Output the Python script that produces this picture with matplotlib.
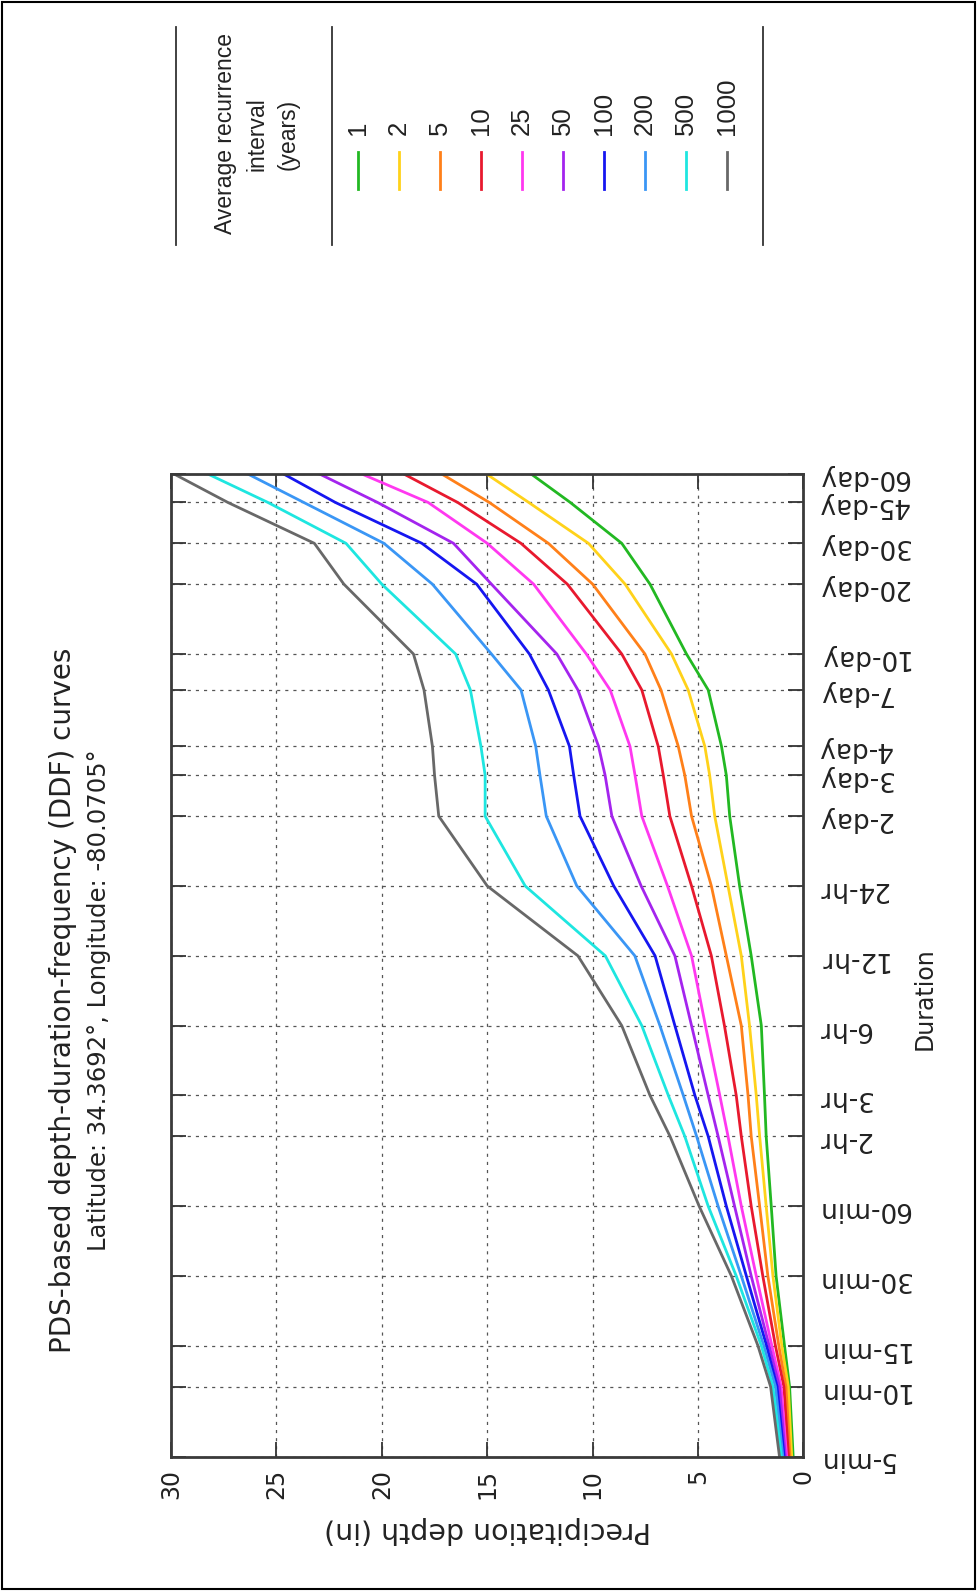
import matplotlib
matplotlib.use('Agg')
import matplotlib.pyplot as plt
from matplotlib.lines import Line2D
from matplotlib.patches import Rectangle
from matplotlib.ticker import NullLocator

# durations in minutes, and their tick labels
durations = [5, 10, 15, 30, 60, 120, 180, 360, 720, 1440, 2880, 4320, 5760,
             10080, 14400, 28800, 43200, 64800, 86400]
duration_labels = ['5-min', '10-min', '15-min', '30-min', '60-min', '2-hr', '3-hr',
                   '6-hr', '12-hr', '24-hr', '2-day', '3-day', '4-day', '7-day',
                   '10-day', '20-day', '30-day', '45-day', '60-day']

# precipitation depth (in) per average recurrence interval
depth_1 = [0.49, 0.66, 0.90, 1.30, 1.53, 1.77, 1.85, 2.00, 2.48, 3.03, 3.50, 3.66,
           3.89, 4.52, 5.55, 7.28, 8.62, 11.06, 12.95]
depth_2 = [0.56, 0.72, 1.03, 1.45, 1.77, 2.08, 2.24, 2.56, 2.95, 3.58, 4.21, 4.45,
           4.68, 5.47, 6.26, 8.46, 10.2, 13.03, 15.07]
depth_5 = [0.64, 0.83, 1.17, 1.69, 2.08, 2.48, 2.63, 2.95, 3.66, 4.37, 5.31, 5.63,
           5.94, 6.76, 7.52, 10.0, 12.1, 14.9, 17.2]
depth_10 = [0.71, 0.93, 1.33, 1.93, 2.48, 2.95, 3.19, 3.75, 4.37, 5.31, 6.34, 6.65,
            6.89, 7.67, 8.62, 11.2, 13.4, 16.4, 19.0]
depth_25 = [0.80, 1.06, 1.50, 2.24, 2.95, 3.58, 3.97, 4.65, 5.31, 6.45, 7.67, 7.99,
            8.23, 9.17, 10.3, 12.8, 15.0, 17.8, 21.0]
depth_50 = [0.86, 1.14, 1.63, 2.48, 3.27, 4.05, 4.52, 5.31, 6.10, 7.70, 9.09, 9.41,
            9.72, 10.7, 11.7, 14.8, 16.6, 20.2, 23.0]
depth_100 = [0.92, 1.25, 1.75, 2.71, 3.66, 4.52, 5.15, 6.10, 7.04, 9.00, 10.6, 10.9,
             11.1, 12.1, 13.0, 15.5, 18.1, 22.2, 24.7]
depth_200 = [0.98, 1.33, 1.88, 2.95, 4.05, 5.07, 5.70, 6.81, 8.00, 10.75, 12.2, 12.5,
             12.7, 13.4, 14.8, 17.6, 19.9, 23.7, 26.4]
depth_500 = [1.05, 1.45, 2.00, 3.19, 4.52, 5.63, 6.41, 7.67, 9.40, 13.2, 15.1, 15.1,
             15.3, 15.8, 16.5, 20.0, 21.7, 25.4, 28.3]
depth_1000 = [1.14, 1.56, 2.16, 3.42, 4.95, 6.33, 7.28, 8.62, 10.7, 15.0, 17.3, 17.5,
              17.6, 18.0, 18.5, 21.8, 23.2, 27.3, 29.9]

ari_labels = ['1', '2', '5', '10', '25', '50', '100', '200', '500', '1000']
series = [depth_1, depth_2, depth_5, depth_10, depth_25, depth_50, depth_100,
          depth_200, depth_500, depth_1000]
colors = ['#22b822', '#ffd21a', '#ff8019', '#e8192e', '#ff38f0', '#a424ee',
          '#1616f0', '#3a96f5', '#1ee6e0', '#686868']

W, H = 977, 1591


def fx(x):
    return x / W


def fy(y):
    return 1 - y / H


fig = plt.figure(figsize=(W / 100, H / 100), dpi=100)

ax = fig.add_axes([fx(171), fy(1456.5), (803.5 - 171) / W, (1456.5 - 473.5) / H])
for d, c in zip(series, colors):
    ax.plot(d, durations, color=c, lw=2.0)

ax.set_yscale('log')
ax.set_xlim(30, 0)
ax.set_ylim(5, 86400)
ax.set_xticks([0, 5, 10, 15, 20, 25, 30])
ax.set_yticks(durations, labels=duration_labels)
ax.yaxis.set_minor_locator(NullLocator())
ax.tick_params(axis='y', left=True, right=True, labelleft=False, labelright=True,
               direction='in', length=11, width=1.3, pad=10, labelsize=19,
               labelrotation=180, colors='#333333', labelcolor='#222222')
ax.tick_params(axis='x', top=True, bottom=True, direction='in', length=11,
               width=1.3, pad=9, labelsize=17, labelrotation=90,
               colors='#333333', labelcolor='#222222')
ax.grid(True, color='#555555', linestyle=(0, (2.5, 4)), linewidth=0.9)
for s in ax.spines.values():
    s.set_linewidth(2.0)
    s.set_color('#3a3a3a')

# titles and axis labels
fig.text(fx(63), fy(1000), 'PDS-based depth-duration-frequency (DDF) curves',
         rotation=90, ha='center', va='center', fontsize=20, color='#222222')
fig.text(fx(99), fy(1000), 'Latitude: 34.3692\u00b0, Longitude: -80.0705\u00b0',
         rotation=90, ha='center', va='center', fontsize=17.5, color='#222222')
fig.text(fx(925), fy(999), 'Duration', rotation=90, ha='center', va='center',
         fontsize=17, color='#222222')
fig.text(fx(488), fy(1530), 'Precipitation depth (in)', rotation=180,
         ha='center', va='center', fontsize=20.5, color='#222222')

# legend
for xl in [176, 332, 763]:
    fig.add_artist(Line2D([fx(xl), fx(xl)], [fy(27), fy(245)], color='#333333',
                          lw=1.3, transform=fig.transFigure))
fig.text(fx(257), fy(134), 'Average recurrence\ninterval\n(years)', rotation=90,
         ha='center', va='center', multialignment='center', linespacing=1.45,
         fontsize=16.5, family='Liberation Sans', color='#222222')
for i, (lab, c) in enumerate(zip(ari_labels, colors)):
    x = 358 + 41 * i
    fig.text(fx(x), fy(135), lab, rotation=90, ha='center', va='bottom',
             fontsize=18.5, family='Liberation Sans', color='#222222')
    fig.add_artist(Line2D([fx(x), fx(x)], [fy(152), fy(189)], color=c, lw=2.0,
                          transform=fig.transFigure))

# outer frame
fig.add_artist(Rectangle((fx(2), fy(1589)), fx(973), 1587 / H, fill=False,
                         ec='black', lw=1.5, transform=fig.transFigure))

fig.savefig('out.png', dpi=100)
